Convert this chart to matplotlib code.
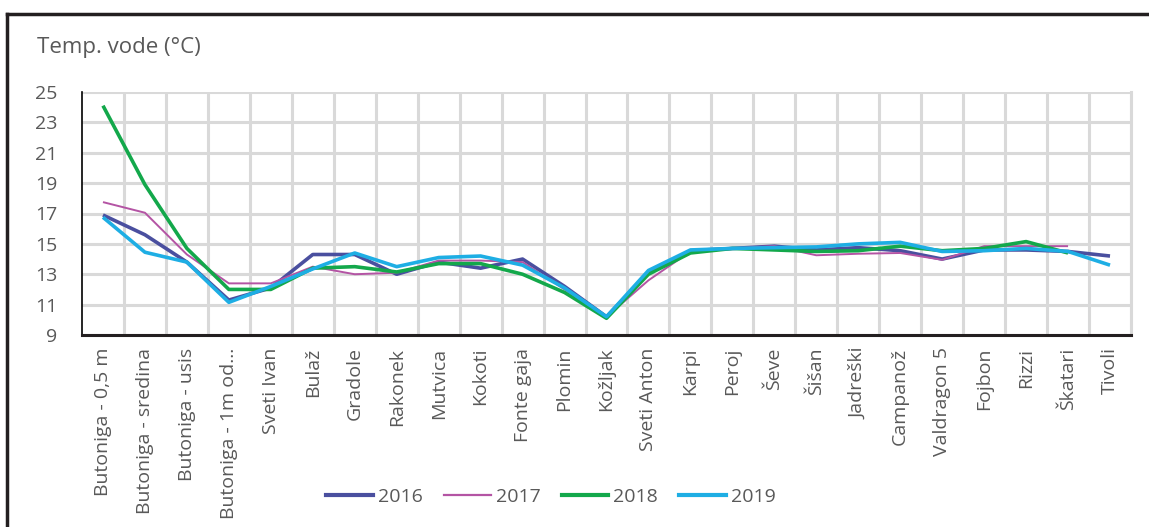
import numpy as np
import matplotlib
matplotlib.use("Agg")
import matplotlib.pyplot as plt
from matplotlib.lines import Line2D

categories = ["Butoniga - 0,5 m", "Butoniga - sredina", "Butoniga - usis", "Butoniga - 1m od…",
              "Sveti Ivan", "Bulaž", "Gradole", "Rakonek", "Mutvica", "Kokoti", "Fonte gaja",
              "Plomin", "Kožljak", "Sveti Anton", "Karpi", "Peroj", "Ševe", "Šišan", "Jadreški",
              "Campanož", "Valdragon 5", "Fojbon", "Rizzi", "Škatari", "Tivoli"]
nan = np.nan
v2016 = [16.9, 15.6, 13.8, 11.3, 12.1, 14.3, 14.3, 13.0, 13.8, 13.4, 14.0, 12.2, 10.2, 13.1,
         14.55, 14.7, 14.85, 14.6, 14.75, 14.55, 14.0, 14.6, 14.6, 14.5, 14.2]
v2017 = [17.75, 17.05, 14.3, 12.4, 12.4, 13.5, 13.0, 13.1, 13.9, 13.9, 13.8, 12.0, 10.2, 12.6,
         14.5, 14.7, 14.85, 14.25, 14.35, 14.4, 13.95, 14.85, 14.85, 14.85, nan]
v2018 = [24.1, 18.9, 14.7, 12.0, 12.0, 13.4, 13.5, 13.15, 13.7, 13.7, 13.0, 11.8, 10.1, 13.0,
         14.4, 14.7, 14.6, 14.5, 14.55, 14.85, 14.55, 14.7, 15.15, 14.4, nan]
v2019 = [16.75, 14.45, 13.8, 11.15, 12.2, 13.35, 14.4, 13.5, 14.1, 14.2, 13.6, 12.1, 10.2, 13.25,
         14.6, 14.7, 14.75, 14.8, 15.0, 15.1, 14.5, 14.55, 14.7, 14.5, 13.6]
series_labels = ["2016", "2017", "2018", "2019"]
y_ticks = [9, 11, 13, 15, 17, 19, 21, 23, 25]

colors = ["#4a4f9f", "#b454a4", "#13a84b", "#1eaee4"]
widths = [2.6, 1.4, 2.6, 2.6]

plt.rcParams['font.family'] = ['Open Sans', 'DejaVu Sans']
gray = "#595959"

fig = plt.figure(figsize=(11.49, 5.27), dpi=100)
ax = fig.add_axes([82/1149, 1-335/527, (1131-82)/1149, (335-92)/527])

x = np.arange(len(categories))
for vals, lab, c, w in zip([v2016, v2017, v2018, v2019], series_labels, colors, widths):
    ax.plot(x, vals, color=c, lw=w, label=lab, solid_joinstyle='round', solid_capstyle='butt')

ax.set_xlim(-0.5, len(categories) - 0.5)
ax.set_ylim(9, 25)
ax.set_yticks(y_ticks)
ax.set_yticklabels([str(t) for t in y_ticks], fontsize=14, color=gray)
ax.set_xticks(x)
ax.set_xticklabels(categories, rotation=90, fontsize=14, color=gray)
ax.set_xticks(np.arange(len(categories)) + 0.5, minor=True)
ax.tick_params(axis='y', length=0, pad=18)
ax.tick_params(axis='x', which='both', length=0, pad=9)
ax.grid(False)
ax.yaxis.grid(True, color="#d9d9d9", lw=2.2)
ax.xaxis.grid(True, which='minor', color="#d9d9d9", lw=2.2)
ax.set_axisbelow(True)
for s in ['top', 'right']:
    ax.spines[s].set_visible(False)
ax.spines['left'].set_color('black')
ax.spines['left'].set_linewidth(1.2)
ax.spines['bottom'].set_color('#231f20')
ax.spines['bottom'].set_linewidth(2.2)
ax.plot([len(categories) - 0.5] * 2, [9, 25], color="#d9d9d9", lw=2.2, clip_on=False, zorder=0)

fig.text(37/1149, 1-47/527, "Temp. vode (°C)", fontsize=16, color=gray, va='center', ha='left')

handles = [Line2D([0], [0], color=c, lw=(w + 0.4 if w > 2 else 1.6)) for c, w in zip(colors, widths)]
fig.legend(handles, series_labels, loc='center', bbox_to_anchor=(551/1149, 1-497/527), ncol=4,
           frameon=False, fontsize=14, labelcolor=gray, handlelength=2.4, handletextpad=0.26,
           columnspacing=1.08, borderpad=0, borderaxespad=0)

# outer frame
fig.add_artist(Line2D([7/1149, 1.0], [1-14/527, 1-14/527], color="#231f20", lw=2.5, transform=fig.transFigure))
fig.add_artist(Line2D([7/1149, 7/1149], [1-14/527, 0], color="#231f20", lw=2.5, transform=fig.transFigure))

fig.savefig("out.png", dpi=100)
